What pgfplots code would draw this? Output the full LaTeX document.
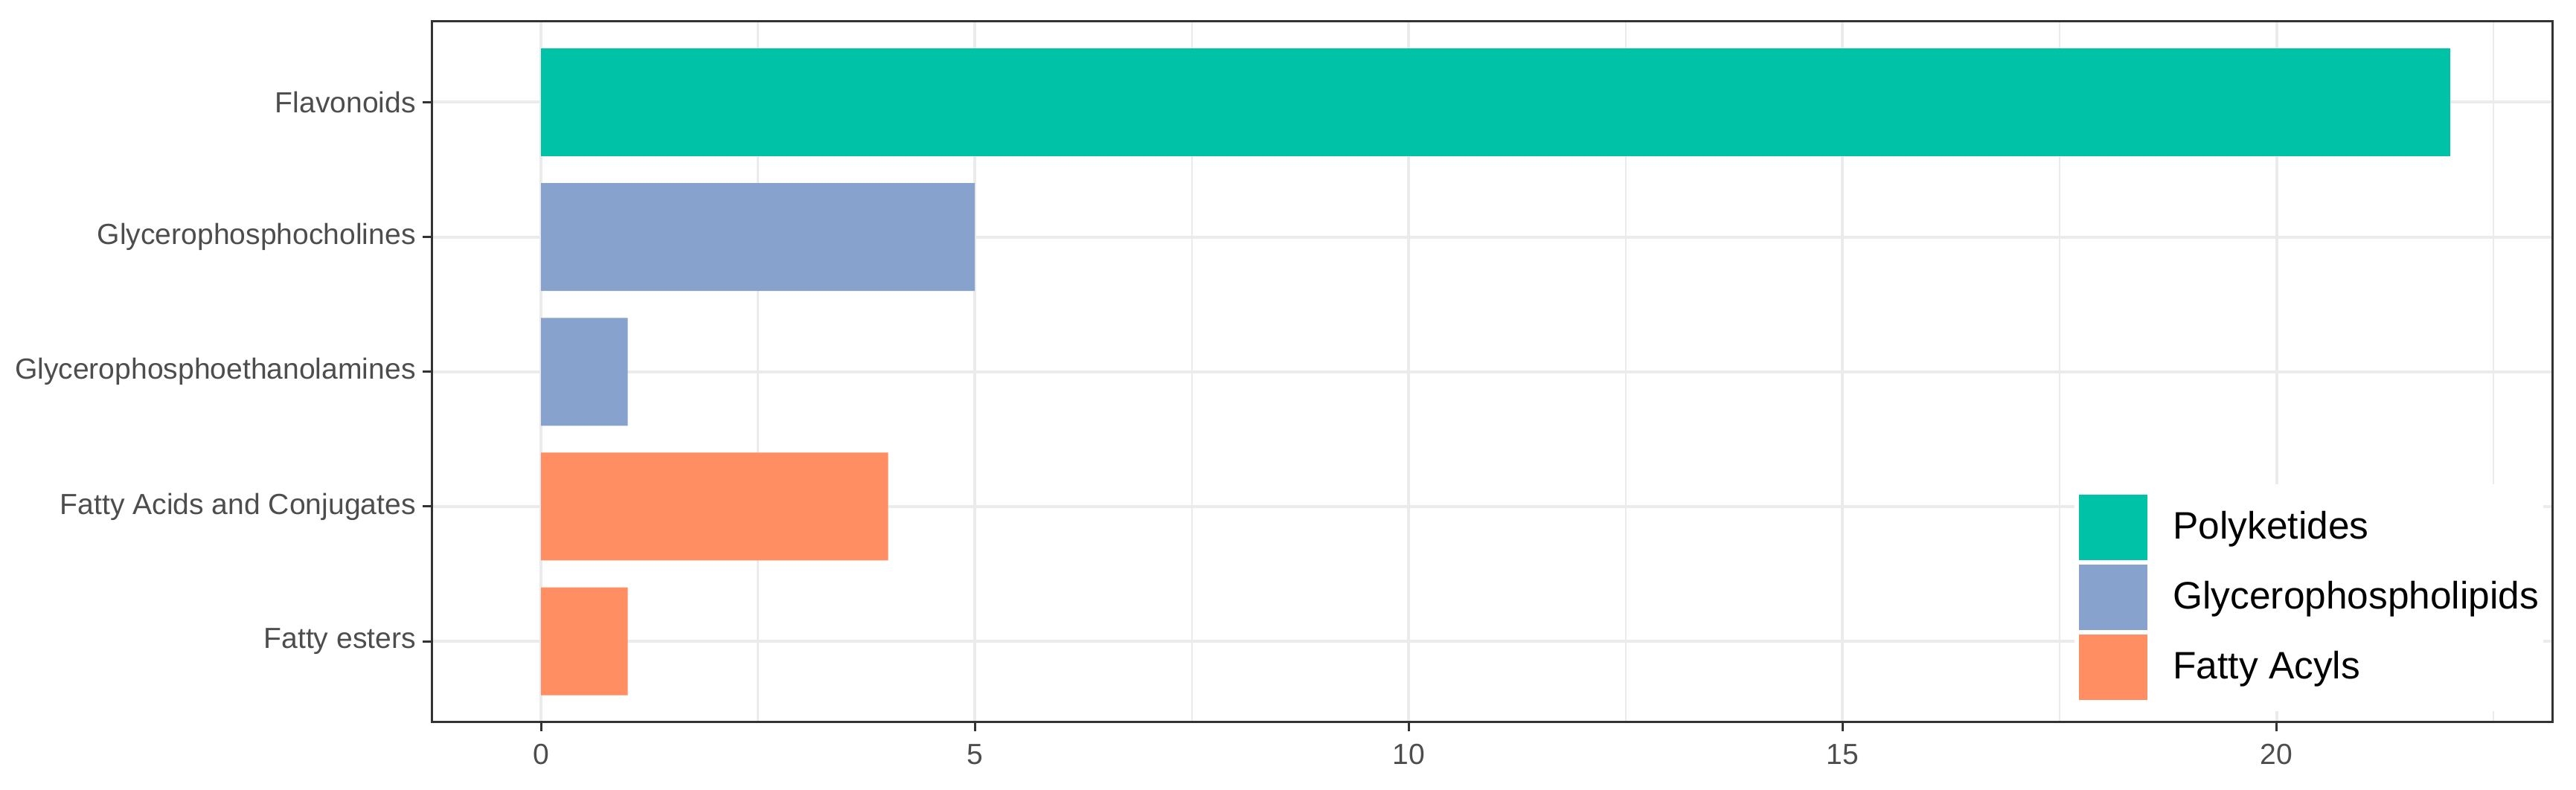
\documentclass[border=0pt]{standalone}
\usepackage{fontspec}
\setmainfont{Liberation Sans}
\usepackage{pgfplots}
\pgfplotsset{compat=1.18}
\definecolor{polyk}{HTML}{00C2A7}
\definecolor{glyc}{HTML}{87A2CD}
\definecolor{fatty}{HTML}{FF8F62}
\definecolor{gridc}{HTML}{EBEBEB}
\definecolor{framec}{HTML}{333333}
\definecolor{ticktext}{HTML}{4D4D4D}

\begin{document}
\begin{tikzpicture}
\path[use as bounding box] (-117.3pt,-18.4pt) rectangle (582.7pt,196.3pt);
\begin{axis}[
    at={(0,0)}, anchor=south west,
    scale only axis,
    width=576.3pt, height=190.5pt,
    xbar, bar width=0.8, bar shift=0pt,
    xmin=-1.26, xmax=23.18,
    ymin=0.4, ymax=5.6,
    xtick={0,5,10,15,20},
    minor xtick={2.5,7.5,12.5,17.5,22.5},
    ytick={1,2,3,4,5},
    yticklabels={%
        Fatty esters,
        Fatty Acids and Conjugates,
        Glycerophosphoethanolamines,
        Glycerophosphocholines,
        Flavonoids,
      },
    grid=both,
    major grid style={gridc, line width=0.8pt},
    minor grid style={gridc, line width=0.5pt},
    axis line style={framec, line width=0.6pt},
    tick style={framec, line width=0.6pt},
    tick align=outside,
    tick pos=left,
    major tick length=2.4pt,
    minor tick length=0pt,
    tick label style={font=\fontsize{7.9}{9.5}\selectfont, text=ticktext},
    yticklabel style={xshift=1.6pt},
    /pgf/number format/assume math mode=true,
    legend style={at={(0.7744,0.341)}, anchor=north west,
        draw=none, fill=white, inner xsep=1.2pt, inner ysep=3pt, row sep=1.2pt,
        font=\fontsize{10.4}{12}\selectfont,
        nodes={inner sep=0pt},
        /tikz/every odd column/.append style={column sep=6.9pt}},
    legend cell align=left,
    legend image code/.code={\fill[#1] (0pt,-8.9pt) rectangle (18.6pt,8.9pt);},
  ]
  \addplot[fill=polyk, draw=none] coordinates {(22,5)};
  \addlegendentry{Polyketides}
  \addplot[fill=glyc, draw=none] coordinates {(5,4) (1,3)};
  \addlegendentry{Glycerophospholipids}
  \addplot[fill=fatty, draw=none] coordinates {(4,2) (1,1)};
  \addlegendentry{Fatty Acyls}
\end{axis}
\end{tikzpicture}
\end{document}
